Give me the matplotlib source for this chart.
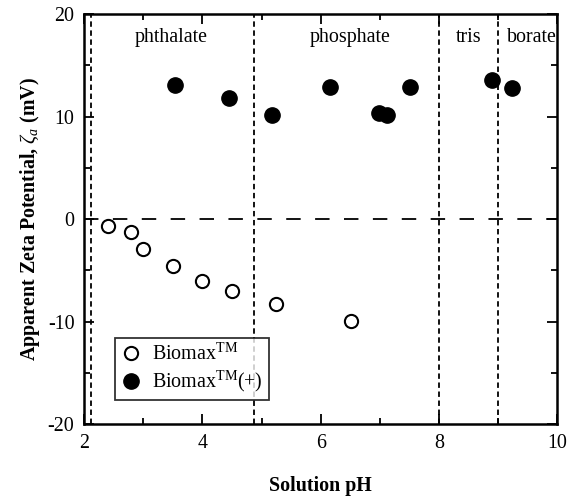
import matplotlib
matplotlib.use('Agg')
from matplotlib import pyplot as plt
from matplotlib.ticker import MultipleLocator

plt.rcParams['font.family'] = ['Liberation Serif', 'DejaVu Serif']
plt.rcParams['mathtext.fontset'] = 'custom'
plt.rcParams['mathtext.rm'] = 'Liberation Serif'
plt.rcParams['mathtext.it'] = 'Liberation Serif:italic'
plt.rcParams['mathtext.bf'] = 'Liberation Serif:bold'
plt.rcParams['axes.unicode_minus'] = False

# Biomax (open circles)
ph_open = [2.41, 2.80, 3.00, 3.51, 4.00, 4.50, 5.25, 6.52]
zeta_open = [-0.7, -1.3, -2.9, -4.6, -6.0, -7.0, -8.3, -9.9]
# Biomax(+) (filled circles)
ph_fill = [3.54, 4.45, 5.18, 6.16, 6.99, 7.13, 7.52, 8.90, 9.24]
zeta_fill = [13.1, 11.8, 10.1, 12.9, 10.3, 10.1, 12.9, 13.6, 12.8]

# buffer regions
buffer_bounds = [2.12, 4.87, 8.0, 9.0]
buffer_names = ['phthalate', 'phosphate', 'tris', 'borate']
buffer_label_x = [3.47, 6.5, 8.5, 9.58]

fig = plt.figure(figsize=(5.69, 4.99), dpi=100)
ax = fig.add_axes([0.148, 0.150, 0.831, 0.822])

for xb in buffer_bounds:
    ax.axvline(xb, color='black', lw=1.3, ls=(0, (3, 2)), zorder=1)
ax.axhline(0, color='black', lw=1.3, ls=(0, (8, 8)), zorder=1)

for name, xl in zip(buffer_names, buffer_label_x):
    ax.text(xl, 17.7, name, ha='center', va='center', fontsize=14.4)

ax.plot(ph_open, zeta_open, 'o', ms=9.5, mfc='white', mec='black', mew=1.5,
        label=r'Biomax$^{\mathrm{TM}}$', zorder=3)
ax.plot(ph_fill, zeta_fill, 'o', ms=11, mfc='black', mec='black',
        label=r'Biomax$^{\mathrm{TM}}$(+)', zorder=3)

ax.set_xlim(2, 10)
ax.set_ylim(-20, 20)
ax.xaxis.set_major_locator(MultipleLocator(2))
ax.xaxis.set_minor_locator(MultipleLocator(1))
ax.yaxis.set_major_locator(MultipleLocator(10))
ax.yaxis.set_minor_locator(MultipleLocator(5))
ax.tick_params(which='both', direction='in', top=True, right=True, labelsize=14.4, width=1.3)
ax.tick_params(which='major', length=7, pad=7)
ax.tick_params(which='minor', length=4)
for sp in ax.spines.values():
    sp.set_linewidth(1.8)

ax.set_xlabel('Solution pH', fontsize=14.4, fontweight='bold', labelpad=17)
ax.set_ylabel(r'Apparent Zeta Potential, $\zeta_a$ (mV)', fontsize=14.4, fontweight='bold', labelpad=4)

leg = ax.legend(loc='lower left', bbox_to_anchor=(0.066, 0.058), borderaxespad=0,
                fontsize=14.4, frameon=True, fancybox=False, edgecolor='black',
                handlelength=1.0, handletextpad=0.55, borderpad=0.3, labelspacing=0.2)
leg.get_frame().set_linewidth(1.3)

fig.savefig('out.png', dpi=100)
